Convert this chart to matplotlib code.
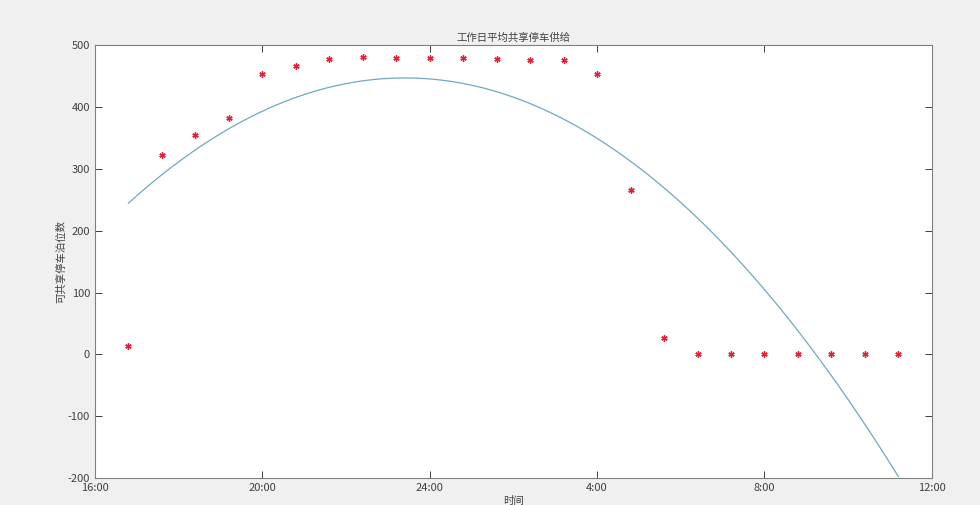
import numpy as np
import matplotlib
matplotlib.use("Agg")
import matplotlib.pyplot as plt

plt.rcParams['font.family'] = ['Noto Sans CJK SC', 'DejaVu Sans']
plt.rcParams['axes.unicode_minus'] = False

# time of each observation in hours after 0:00 of first day (48-min step)
hours = [16.8, 17.6, 18.4, 19.2, 20.0, 20.8, 21.6, 22.4, 23.2, 24.0, 24.8, 25.6,
         26.4, 27.2, 28.0, 28.8, 29.6, 30.4, 31.2, 32.0, 32.8, 33.6, 34.4, 35.2]
supply = [14, 323, 355, 383, 454, 467, 478, 481, 480, 480, 479, 477,
          476, 476, 453, 265, 27, 0, 0, 0, 0, 0, 0, 0]
tick_pos = [16, 20, 24, 28, 32, 36]
tick_labels = ['16:00', '20:00', '24:00', '4:00', '8:00', '12:00']
y_ticks = [-200, -100, 0, 100, 200, 300, 400, 500]

x = np.array(hours)
y = np.array(supply)
coef = np.polyfit(x, y, 2)
xf = np.linspace(x[0], x[-1], 300)
yf = np.polyval(coef, xf)

fig = plt.figure(figsize=(9.8, 5.05), dpi=100, facecolor='#f0f0f0')
ax = fig.add_axes([0.0969, 0.0535, 0.854, 0.857])
ax.set_facecolor('white')
ax.plot(xf, yf, color='#70a8c0', lw=0.9)
ax.plot(x, y, linestyle='none', marker=(6, 2, 0), color='#e0203a',
        markersize=4.5, markeredgewidth=1.0)

ax.set_xlim(16, 36)
ax.set_ylim(-200, 500)
ax.set_xticks(tick_pos)
ax.set_xticklabels(tick_labels)
ax.set_yticks(y_ticks)
ax.tick_params(direction='in', top=True, right=True, length=5, width=0.7,
               colors='#404040', labelsize=8)
for s in ax.spines.values():
    s.set_color('#808080')
    s.set_linewidth(0.8)
ax.set_title('工作日平均共享停车供给', fontsize=7.5, color='#404040', pad=3)
ax.set_ylabel('可共享停车泊位数', fontsize=7.5, color='#404040', labelpad=1)
ax.set_xlabel('时间', fontsize=7.5, color='#404040', labelpad=2)

fig.savefig('out.png', dpi=100, facecolor=fig.get_facecolor())
